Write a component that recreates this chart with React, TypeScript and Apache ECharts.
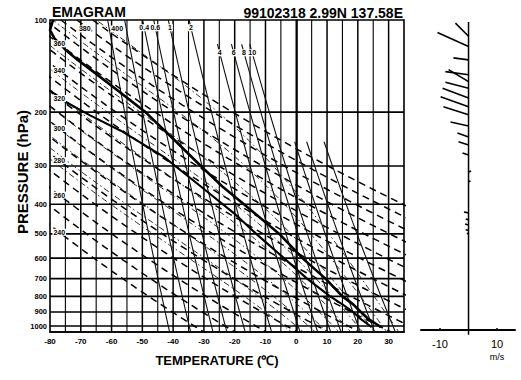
import React, { useEffect, useRef } from 'react';
import * as echarts from 'echarts';

// ---------- data ----------
const PRESSURE_TICKS = [100, 200, 300, 400, 500, 600, 700, 800, 900, 1000];
const TEMP_TICKS = [-80, -70, -60, -50, -40, -30, -20, -10, 0, 10, 20, 30];
const ISOTHERMS = [-75, -70, -65, -60, -55, -50, -45, -40, -35, -30, -25, -20, -15, -10, -5, 0, 5, 10, 15, 20, 25, 30];
const ISOBARS = [200, 300, 400, 500, 600, 700, 800, 900, 1000];
const THETA = [240, 250, 260, 270, 280, 290, 300, 310, 320, 330, 340, 350, 360, 370, 380, 390, 400];
const THETA_LABELS_LEFT = [240, 260, 280, 300, 320, 340, 360];
const THETA_LABELS_TOP = [380, 400];
const MIX_RATIO = [0.1, 0.2, 0.4, 0.6, 1, 2, 4, 6, 8, 10, 15, 20, 30];
const MIX_START_P = [100, 100, 100, 100, 100, 100, 120, 120, 120, 120, 250, 250, 250];
const MIX_LABELS_TOP = [0.4, 0.6, 1, 2];
const MIX_LABELS_MID = [4, 6, 8, 10];
const THETA_W = [-4, 0, 4, 8, 12, 16, 20, 24, 28, 32];

const SOUND_P = [1010, 1000, 950, 900, 850, 800, 700, 600, 500, 400, 350, 300, 250, 200, 170, 150, 135, 125, 115, 108, 100];
const SOUND_T = [27.5, 27, 23.5, 21, 18.5, 15, 9.5, 2, -5.5, -17, -24, -31, -39, -49, -58, -65, -71, -75, -78.5, -80, -79];
const DEW_P = [1010, 1000, 950, 900, 850, 800, 700, 600, 500, 430, 350, 280, 230, 205, 185, 170];
const DEW_T = [24.5, 24, 21, 18.5, 15, 11, 3.5, -4, -13, -20, -31, -43, -57, -67, -75, -80];

const WIND_P = [113, 122, 135, 151, 159, 167, 180, 192, 204, 222, 241, 256, 276, 314, 338, 427, 450, 468, 487, 500];
const WIND_U = [-4.6, -10.9, -5.3, -8.1, -7.0, -8.1, -9.1, -9.8, -8.8, -6.3, -3.9, -3.5, -2.1, 0.9, 0.7, -1.6, -1.0, -1.2, -1.0, -0.6];
const WIND_V = [4.6, 4.9, 0.7, 1.1, 4.2, 2.1, 3.5, 3.5, 2.8, 1.4, 1.4, 1.1, 0.7, 0.4, 0.3, 0.3, 0.3, 0.4, 0.2, 0.2];
const WIND_TICKS = [-10, 10];

// ---------- helpers ----------
const FONT = '"Liberation Sans", Arial, Helvetica, sans-serif';
const lg = (p: number) => Math.log10(p);
const Y_MIN = 2;
const Y_MAX = 2 + 312 / 306;
const WY_MAX = 2 + 310 / 306;
const K0 = 273.15;

function dryAdiabat(theta: number) {
  const pts: number[][] = [];
  for (let p = 100; p <= 1060; p += 10) pts.push([theta * Math.pow(p / 1000, 0.286) - K0, lg(p)]);
  return pts;
}
function tdFromW(w: number, p: number) {
  const e = (w * p) / (622 + w);
  const a = Math.log(e / 6.112);
  return (243.5 * a) / (17.67 - a);
}
function mixLine(w: number, p0: number) {
  const pts: number[][] = [];
  for (let p = p0; p <= 1060; p += 20) pts.push([tdFromW(w, p), lg(p)]);
  return pts;
}
function moistRate(T: number, p: number) {
  const Rd = 287.04, cp = 1005.7, Lv = 2.501e6, eps = 0.622;
  const es = 6.112 * Math.exp((17.67 * (T - K0)) / (T - 29.65));
  const rs = (eps * es) / (p - es);
  return (Rd * T + Lv * rs) / (cp + (Lv * Lv * rs * eps) / (Rd * T * T));
}
function pseudoAdiabat(thw: number) {
  const integrate = (h: number, stop: (p: number, T: number) => boolean) => {
    const out: number[][] = [];
    let T = thw + K0;
    let lnp = Math.log(1000);
    out.push([T - K0, lnp / Math.LN10]);
    while (!stop(Math.exp(lnp), T)) {
      const k1 = moistRate(T, Math.exp(lnp));
      const k2 = moistRate(T + 0.5 * h * k1, Math.exp(lnp + 0.5 * h));
      T += h * k2;
      lnp += h;
      out.push([T - K0, lnp / Math.LN10]);
    }
    return out;
  };
  const up = integrate(-0.01, (p, T) => p <= 100 || T < 180);
  const down = integrate(0.005, (p) => p >= 1060);
  return [...down.reverse(), ...up.slice(1)];
}

function lineSeries(data: number[][], style: any, z = 2, idx = 0, clip = true) {
  return {
    type: 'line',
    data,
    xAxisIndex: idx,
    yAxisIndex: idx,
    symbol: 'none',
    silent: true,
    clip,
    z,
    lineStyle: style,
  };
}

// text labels placed at data coordinates through the axes
function labelSeries(points: number[][], names: string[], dx = 0) {
  return {
    type: 'custom',
    xAxisIndex: 0,
    yAxisIndex: 0,
    silent: true,
    z: 8,
    data: points,
    renderItem: (params: any, api: any) => {
      const pt = api.coord([api.value(0), api.value(1)]);
      return {
        type: 'text',
        x: pt[0] + dx,
        y: pt[1],
        style: {
          text: names[params.dataIndex],
          fill: '#000',
          font: `bold 7px ${FONT}`,
          align: 'center',
          verticalAlign: 'middle',
          backgroundColor: '#fff',
          padding: [0, 1],
        },
      };
    },
  };
}

function buildOption() {
  const series: any[] = [];
  ISOTHERMS.forEach((t) =>
    series.push(lineSeries([[t, Y_MIN], [t, Y_MAX]], { color: '#000', width: t % 10 === 0 ? 1.5 : 1.1 }, 1))
  );
  ISOBARS.forEach((p) => series.push(lineSeries([[-80, lg(p)], [35, lg(p)]], { color: '#000', width: 1.6 }, 1)));
  THETA.forEach((th) => series.push(lineSeries(dryAdiabat(th), { color: '#000', width: 1.5, type: [7, 5] }, 2)));
  MIX_RATIO.forEach((w, i) => series.push(lineSeries(mixLine(w, MIX_START_P[i]), { color: '#111', width: 1.1 }, 2)));
  THETA_W.forEach((tw) =>
    series.push(lineSeries(pseudoAdiabat(tw), { color: '#222', width: 1, type: [6, 3, 1.5, 3] }, 2))
  );
  series.push(lineSeries(SOUND_P.map((p, i) => [SOUND_T[i], lg(p)]), { color: '#000', width: 2.6 }, 6));
  series.push(lineSeries(DEW_P.map((p, i) => [DEW_T[i], lg(p)]), { color: '#000', width: 2.1 }, 6));

  series.push(
    labelSeries(
      THETA_LABELS_LEFT.map((th) => [-77, lg(1000 * Math.pow((K0 - 77) / th, 1 / 0.286))]),
      THETA_LABELS_LEFT.map(String)
    )
  );
  series.push(
    labelSeries(
      THETA_LABELS_TOP.map((th) => [th * Math.pow(0.107, 0.286) - K0, lg(107)]),
      THETA_LABELS_TOP.map(String),
      12
    )
  );
  series.push(labelSeries(MIX_LABELS_TOP.map((w) => [tdFromW(w, 106), lg(106)]), MIX_LABELS_TOP.map(String)));
  series.push(labelSeries(MIX_LABELS_MID.map((w) => [tdFromW(w, 128), lg(128)]), MIX_LABELS_MID.map(String)));

  // wind panel
  series.push(lineSeries([[0, lg(101.5)], [0, lg(1068)]], { color: '#000', width: 1.5 }, 3, 1, false));
  series.push({
    type: 'custom',
    xAxisIndex: 1,
    yAxisIndex: 1,
    silent: true,
    z: 5,
    data: WIND_P.map((p, i) => [WIND_U[i], lg(p), WIND_V[i]]),
    renderItem: (_params: any, api: any) => {
      const base = api.coord([0, api.value(1)]);
      const k = api.size([1, 0])[0];
      const u = api.value(0);
      const v = api.value(2);
      return {
        type: 'line',
        shape: { x1: base[0], y1: base[1], x2: base[0] + u * k, y2: base[1] - v * k },
        style: { stroke: '#000', lineWidth: 1.6 },
      };
    },
  });

  return {
    animation: false,
    backgroundColor: '#fff',
    grid: [
      { left: 50, top: 20, width: 354, height: 312, show: true, borderColor: '#000', borderWidth: 1.6 },
      { left: 421, top: 20, width: 94, height: 310, show: false },
    ],
    xAxis: [
      {
        type: 'value',
        gridIndex: 0,
        min: -80,
        max: 35,
        axisLine: { show: true, lineStyle: { color: '#000', width: 1.6 } },
        axisTick: { show: false },
        splitLine: { show: false },
        axisLabel: {
          customValues: TEMP_TICKS,
          formatter: (v: number) => String(v),
          fontSize: 8,
          fontWeight: 'bold',
          fontFamily: FONT,
          color: '#000',
          margin: 5,
        },
      },
      {
        type: 'value',
        gridIndex: 1,
        min: -16.67,
        max: 16.3,
        axisLine: { show: true, onZero: false, lineStyle: { color: '#000', width: 2 } },
        axisTick: { show: true, customValues: WIND_TICKS, inside: true, length: 2, lineStyle: { color: '#000', width: 1.5 } },
        splitLine: { show: false },
        axisLabel: {
          customValues: WIND_TICKS,
          formatter: (v: number) => String(v),
          fontSize: 11,
          fontFamily: FONT,
          color: '#000',
          margin: 8,
        },
      },
    ],
    yAxis: [
      {
        type: 'value',
        gridIndex: 0,
        min: Y_MIN,
        max: Y_MAX,
        inverse: true,
        axisLine: { show: true, lineStyle: { color: '#000', width: 1.6 } },
        axisTick: { show: false },
        splitLine: { show: false },
        axisLabel: {
          customValues: PRESSURE_TICKS.map(lg),
          formatter: (v: number) => String(Math.round(Math.pow(10, v))),
          fontSize: 7.5,
          fontWeight: 'bold',
          fontFamily: FONT,
          color: '#000',
          margin: 3,
        },
      },
      {
        type: 'value',
        gridIndex: 1,
        min: Y_MIN,
        max: WY_MAX,
        inverse: true,
        show: false,
      },
    ],
    graphic: [
      {
        type: 'text',
        left: 52,
        top: 5,
        style: { text: 'EMAGRAM', font: `bold 14px ${FONT}`, fill: '#000' },
      },
      {
        type: 'text',
        x: 403,
        y: 13,
        style: { text: '99102318 2.99N 137.58E', font: `bold 14px ${FONT}`, fill: '#000', textAlign: 'right', textVerticalAlign: 'middle' },
      },
      {
        type: 'text',
        x: 22,
        y: 172,
        rotation: Math.PI / 2,
        style: { text: 'PRESSURE (hPa)', font: `bold 15px ${FONT}`, fill: '#000', textAlign: 'center', textVerticalAlign: 'middle' },
      },
      {
        type: 'text',
        x: 217,
        y: 360,
        style: { text: 'TEMPERATURE (℃)', font: `bold 13px ${FONT}`, fill: '#000', textAlign: 'center', textVerticalAlign: 'middle' },
      },
      {
        type: 'text',
        x: 497,
        y: 357,
        style: { text: 'm/s', font: `9px ${FONT}`, fill: '#000', textAlign: 'center', textVerticalAlign: 'middle' },
      },
    ],
    series,
  };
}

export default function App() {
  const ref = useRef<HTMLDivElement>(null);
  useEffect(() => {
    if (!ref.current) return;
    const chart = echarts.init(ref.current, null, { renderer: 'svg' });
    chart.setOption(buildOption() as any);
    return () => chart.dispose();
  }, []);
  return (
    <div
      ref={ref}
      style={{ position: 'fixed', left: 0, top: 0, width: 521, height: 380, background: '#fff' }}
    />
  );
}
